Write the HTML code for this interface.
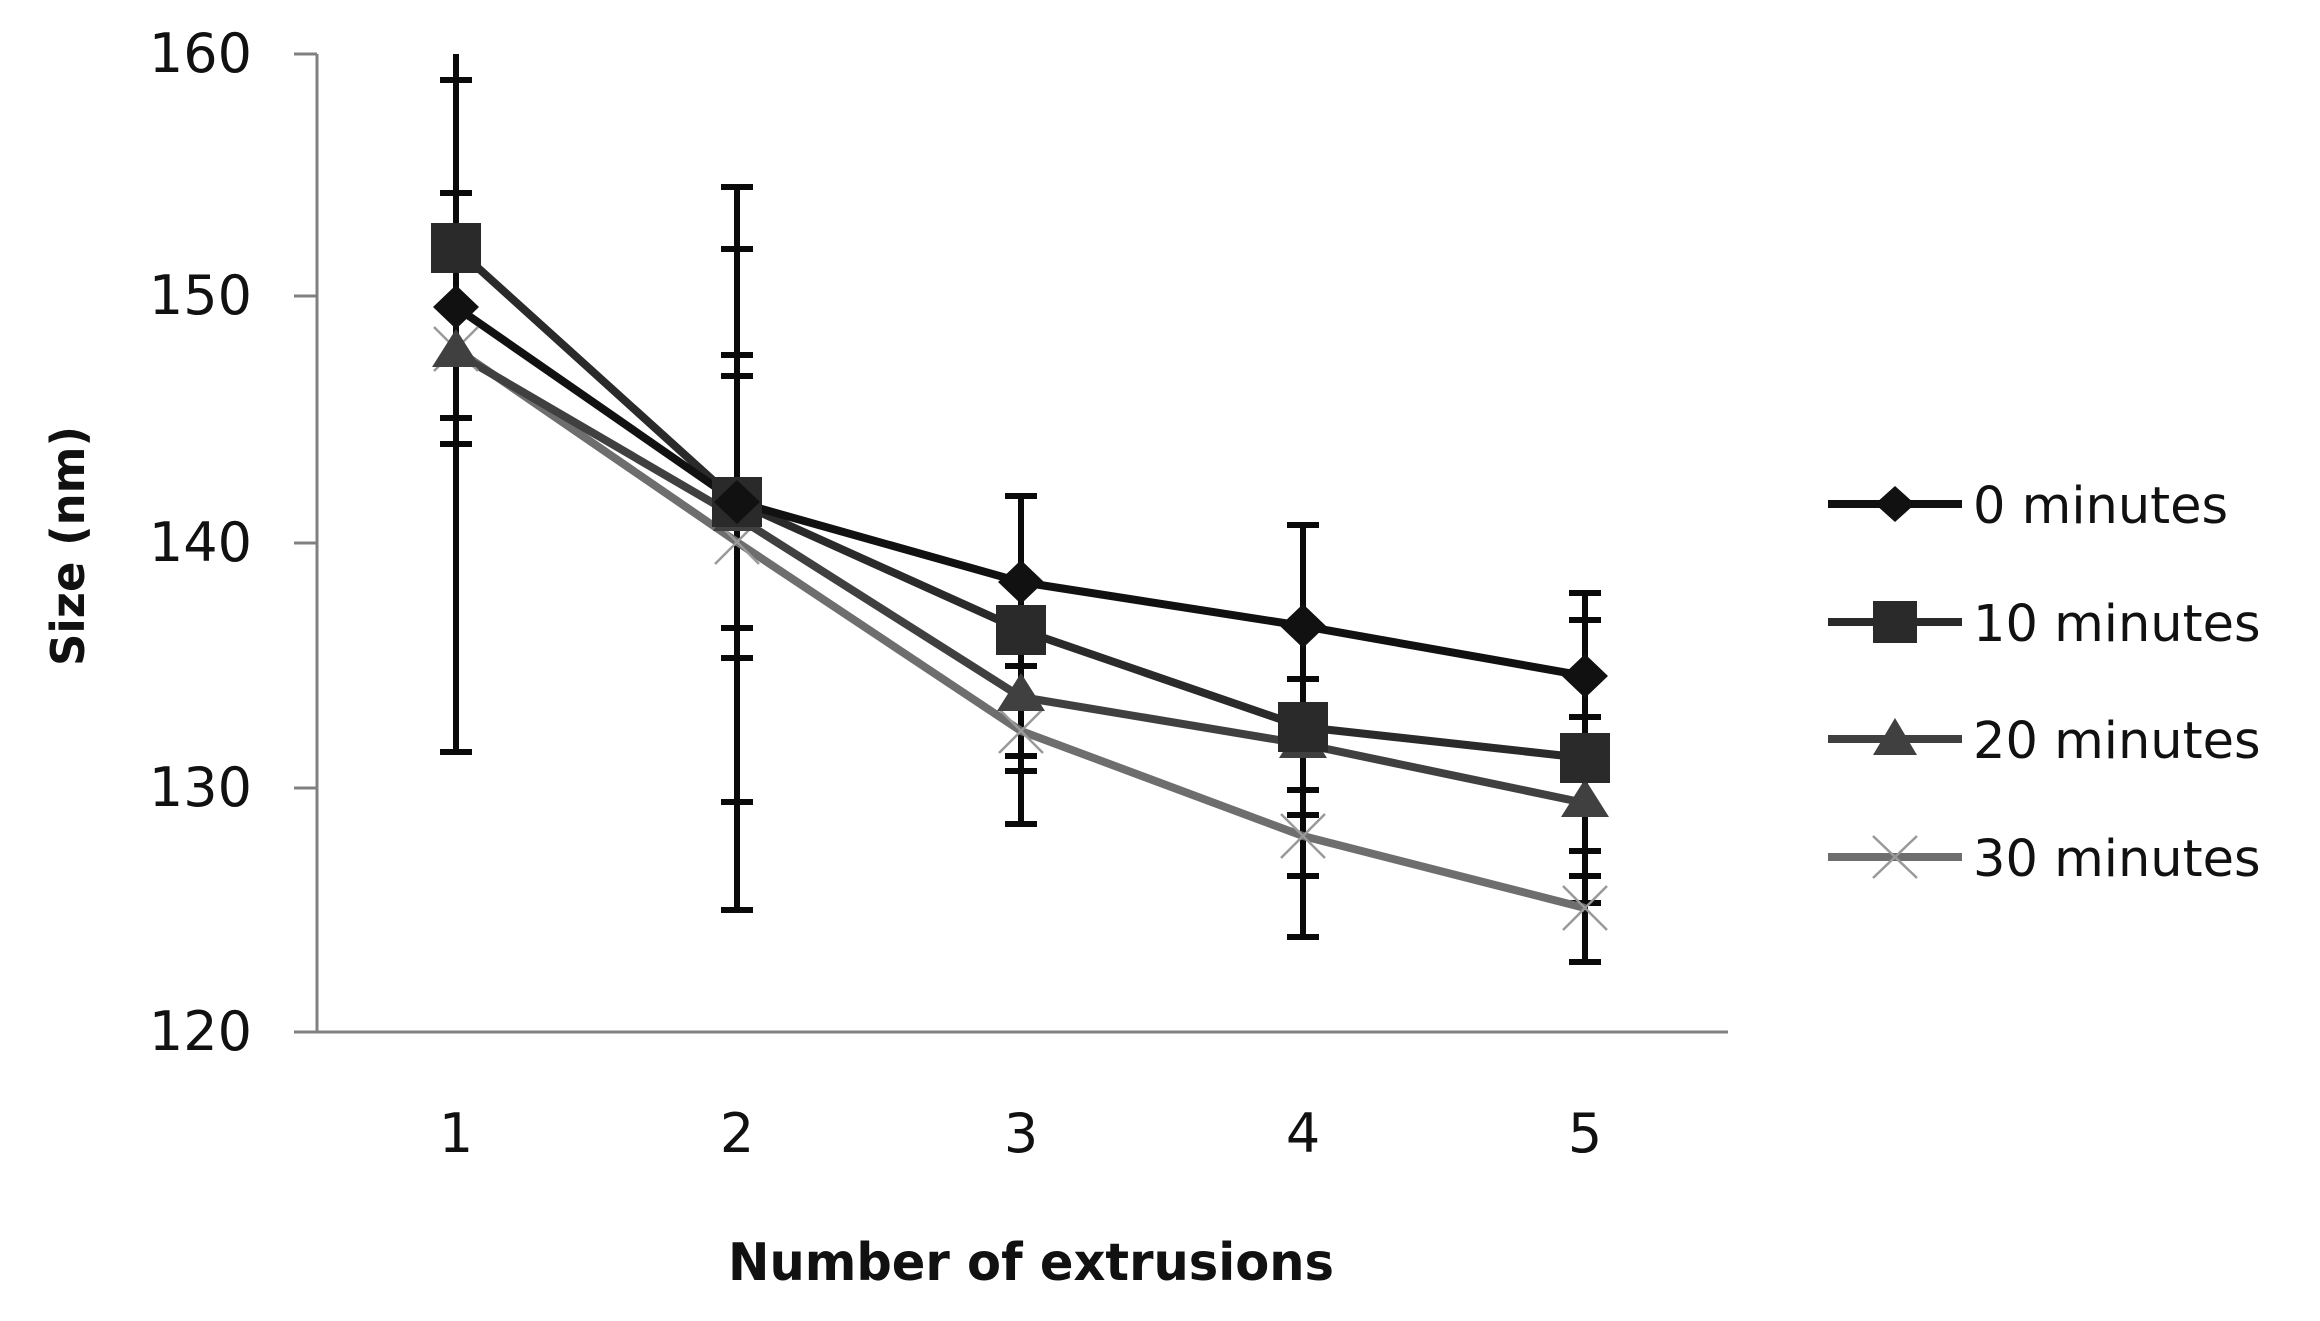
<!DOCTYPE html>
<html><head><style>html,body{margin:0;padding:0;background:#fff}</style></head><body>
<svg width="2320" height="1316" viewBox="0 0 2320 1316" xmlns="http://www.w3.org/2000/svg" font-family="DejaVu Sans, Liberation Sans, sans-serif">
<rect width="2320" height="1316" fill="#fff"/>
<g stroke="#808080" stroke-width="3" fill="none">
<line x1="317" y1="54" x2="317" y2="1032"/>
<line x1="294" y1="1032" x2="1728" y2="1032"/>
<line x1="294" y1="54" x2="317" y2="54"/>
<line x1="294" y1="296" x2="317" y2="296"/>
<line x1="294" y1="543" x2="317" y2="543"/>
<line x1="294" y1="788" x2="317" y2="788"/>
</g>
<g font-size="54" fill="#111" text-anchor="end">
<text x="252" y="72">160</text><text x="252" y="314">150</text><text x="252" y="561">140</text><text x="252" y="806">130</text><text x="252" y="1050">120</text>
</g>
<g font-size="54" fill="#111" text-anchor="middle">
<text x="456" y="1152">1</text><text x="737" y="1152">2</text><text x="1021" y="1152">3</text><text x="1303" y="1152">4</text><text x="1585" y="1152">5</text>
</g>
<text x="1031" y="1280" font-size="52" font-weight="bold" text-anchor="middle" fill="#111" textLength="606" lengthAdjust="spacingAndGlyphs">Number of extrusions</text>
<text transform="translate(84,546) rotate(-90)" font-size="46" font-weight="bold" text-anchor="middle" fill="#111" textLength="240" lengthAdjust="spacingAndGlyphs">Size (nm)</text>
<g stroke="#0a0a0a" stroke-width="6" fill="none">
<line x1="456" y1="54" x2="456" y2="752"/>
<path d="M440 80H472M440 193H472M440 418H472M440 444H472M440 752H472"/>
<line x1="737" y1="187" x2="737" y2="910"/>
<path d="M721 187H753M721 249H753M721 355H753M721 376H753M721 628H753M721 658H753M721 802H753M721 910H753"/>
<line x1="1021" y1="496" x2="1021" y2="824"/>
<path d="M1005 496H1037M1005 666H1037M1005 756H1037M1005 771H1037M1005 824H1037"/>
<line x1="1303" y1="525" x2="1303" y2="937"/>
<path d="M1287 525H1319M1287 679H1319M1287 790H1319M1287 815H1319M1287 876H1319M1287 937H1319"/>
<line x1="1585" y1="593" x2="1585" y2="962"/>
<path d="M1569 593H1601M1569 620H1601M1569 717H1601M1569 851H1601M1569 876H1601M1569 903H1601M1569 962H1601"/>
</g>
<g fill="none" stroke-width="8" stroke-linejoin="round">
<polyline stroke="#6e6e6e" points="456,349 737,542 1021,731 1303,836 1585,908"/>
<polyline stroke="#404040" points="456,353 737,517 1021,697 1303,744 1585,803"/>
<polyline stroke="#2a2a2a" points="456,248 737,502 1021,630 1303,727 1585,758"/>
<polyline stroke="#111" points="456,307 737,502 1021,582 1303,626 1585,676"/>
</g>
<g stroke="#999" stroke-width="2.5">
<path d="M434 327l44 44M478 327l-44 44M715 520l44 44M759 520l-44 44M999 709l44 44M1043 709l-44 44M1281 814l44 44M1325 814l-44 44M1563 886l44 44M1607 886l-44 44"/>
</g>
<g fill="#404040">
<path d="M456 329l24 38h-48zM737 493l24 38h-48zM1021 673l24 38h-48zM1303 720l24 38h-48zM1585 779l24 38h-48z"/>
</g>
<g fill="#2a2a2a">
<rect x="431" y="223" width="50" height="50"/><rect x="712" y="477" width="50" height="50"/><rect x="996" y="605" width="50" height="50"/><rect x="1278" y="702" width="50" height="50"/><rect x="1560" y="733" width="50" height="50"/>
</g>
<g fill="#111">
<path d="M456 285l23 22-23 22-23-22zM737 480l23 22-23 22-23-22zM1021 560l23 22-23 22-23-22zM1303 604l23 22-23 22-23-22zM1585 654l23 22-23 22-23-22z"/>
</g>
<g stroke-width="8" fill="none">
<line x1="1828" y1="504" x2="1962" y2="504" stroke="#111"/>
<line x1="1828" y1="622" x2="1962" y2="622" stroke="#2a2a2a"/>
<line x1="1828" y1="739" x2="1962" y2="739" stroke="#404040"/>
<line x1="1828" y1="857" x2="1962" y2="857" stroke="#6e6e6e"/>
</g>
<path d="M1895 486l20 18-20 18-20-18z" fill="#111"/>
<rect x="1873" y="601" width="44" height="42" fill="#2a2a2a"/>
<path d="M1895 718l22 37h-44z" fill="#404040"/>
<path d="M1873 836l44 42M1917 836l-44 42" stroke="#999" stroke-width="2.5"/>
<g font-size="51" fill="#111">
<text x="1973" y="523">0 minutes</text>
<text x="1973" y="641">10 minutes</text>
<text x="1973" y="758">20 minutes</text>
<text x="1973" y="876">30 minutes</text>
</g>
</svg>
</body></html>
